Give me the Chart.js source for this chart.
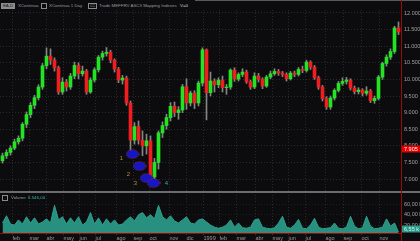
<!DOCTYPE html>
<html>
<head>
<meta charset="utf-8">
<script src="https://cdn.jsdelivr.net/npm/chart.js@4.4.1/dist/chart.umd.min.js"></script>
<style>
html,body{margin:0;padding:0;background:#0c0c0e;}
#wrap{position:relative;width:420px;height:241px;overflow:hidden;background:#0c0c0e;font-family:"Liberation Sans",Arial,sans-serif;}
#cP{position:absolute;left:0;top:10px;}
#cV{position:absolute;left:0;top:193px;}
.t{position:absolute;font-size:4.4px;line-height:6px;color:#9a9a9a;white-space:nowrap;}
.bx{position:absolute;border:1px solid #8a8a8a;box-sizing:border-box;}
</style>
</head>
<body>
<div id="wrap">
  <div style="position:absolute;left:195px;top:0;width:225px;height:1px;background:#5a5a5a"></div>
  <div class="t" style="left:1px;top:3px;width:14px;height:6px;background:#8c8c8c;color:#1a1a1a;text-align:center">EA,D</div>
  <div class="t" style="left:18px;top:3px">XContinua</div>
  <div class="bx" style="left:41px;top:3px;width:6px;height:6px"></div>
  <div class="t" style="left:49px;top:3px">XContinua 1 Day</div>
  <div class="bx t" style="left:88px;top:3px;width:9px;height:6px;font-size:3.6px;line-height:4px;text-align:center">CC</div>
  <div class="t" style="left:99px;top:3px">Trade MEFFRV ASCII Mapping Indexes</div>
  <div class="t" style="left:180px;top:3px;color:#dcdcdc">V=0</div>

  <canvas id="cP" width="420" height="181"></canvas>

  <div style="position:absolute;left:0;top:191px;width:420px;height:2px;background:#6c6c6c"></div>
  <canvas id="cV" width="420" height="48"></canvas>
  <div class="bx" style="left:2px;top:195px;width:6px;height:6px"></div>
  <div class="t" style="left:11px;top:195px">Volume</div>
  <div class="t" id="volTxt" style="left:28px;top:195px;color:#3cb4a0"></div>

  <div style="position:absolute;left:401px;top:0;width:1px;height:241px;background:#9a0c0c"></div>
</div>
<script>
// month ticks (bar index where each month starts) and their labels
var monthLabels = ['feb','mar','abr','may','jun','jul','ago','sep','oct','nov','dic','1999','feb','mar','abr','may','jun','jul','ago','sep','oct','nov'];
var monthStart = [2.5,6.75,11,15.25,19.25,23.25,28.5,32.75,36.75,41.75,46,50.25,54.25,58.5,63.25,67.5,71.5,75.75,80.75,85.25,89.75,94.25];
var priceTicks = [7,7.5,8,8.5,9,9.5,10,10.5,11,11.5,12];
var volTicks = [20,40,60];

// weekly bars
var opens = [7.55,7.70,7.80,7.93,8.12,8.23,8.65,8.94,9.22,9.45,
 9.77,10.41,10.70,10.58,10.35,9.62,9.92,9.77,10.10,10.42,
 10.17,10.25,9.62,9.98,10.29,10.67,10.78,10.82,10.58,10.31,
 9.98,10.04,9.29,8.17,8.58,8.17,8.00,8.15,7.06,7.50,
 8.39,8.61,8.85,9.19,9.00,9.08,9.78,9.29,9.59,9.29,
 9.89,10.89,9.60,9.95,9.84,9.98,9.75,9.77,10.28,10.01,
 10.15,10.22,9.93,9.77,10.10,10.00,9.80,10.07,10.17,10.24,
 10.19,10.15,10.02,10.19,10.15,10.30,10.27,10.52,10.37,10.05,
 9.77,9.42,9.17,9.44,9.67,9.88,9.94,9.98,9.74,9.63,
 9.68,9.58,9.65,9.36,9.43,10.07,10.48,10.67,10.84,11.55];
var closes = [7.70,7.80,7.93,8.12,8.23,8.65,8.94,9.22,9.45,9.77,
 10.41,10.70,10.58,10.35,9.62,9.92,9.77,10.10,10.42,10.17,
 10.25,9.62,9.98,10.29,10.67,10.78,10.82,10.58,10.31,9.98,
 10.04,9.29,8.17,8.58,8.17,8.00,8.15,7.06,7.50,8.39,
 8.61,8.85,9.19,9.00,9.08,9.78,9.29,9.59,9.29,9.89,
 10.89,9.60,9.95,9.84,9.98,9.75,9.77,10.28,10.01,10.15,
 10.22,9.93,9.77,10.10,10.00,9.80,10.07,10.17,10.24,10.19,
 10.15,10.02,10.19,10.15,10.30,10.27,10.52,10.37,10.05,9.77,
 9.42,9.17,9.44,9.67,9.88,9.94,9.98,9.74,9.63,9.68,
 9.58,9.65,9.36,9.43,10.07,10.48,10.67,10.84,11.55,11.43];
var highs = [7.78,7.88,8.00,8.20,8.30,8.70,9.02,9.30,9.52,9.84,
 10.48,10.95,10.92,10.65,10.40,10.05,10.00,10.18,10.52,10.50,
 10.40,10.30,10.05,10.35,10.72,10.85,10.96,10.88,10.62,10.36,
 10.12,10.10,9.35,8.70,8.75,8.45,8.35,8.30,7.62,8.45,
 8.72,8.95,9.30,9.32,9.18,9.85,10.02,9.65,9.66,9.95,
 10.95,10.92,10.22,10.02,10.05,10.10,9.85,10.32,10.35,10.20,
 10.32,10.28,9.98,10.20,10.18,10.05,10.12,10.25,10.32,10.30,
 10.24,10.20,10.24,10.25,10.36,10.40,10.58,10.56,10.42,10.10,
 9.82,9.48,9.50,9.72,9.94,10.05,10.06,10.02,9.80,9.75,
 9.72,9.78,9.70,9.50,10.12,10.52,10.74,10.92,11.60,11.73];
var lows = [7.48,7.62,7.72,7.88,8.05,8.15,8.55,8.85,9.12,9.38,
 9.70,10.32,10.45,10.25,9.55,9.55,9.65,9.70,10.02,10.02,
 10.10,9.55,9.58,9.92,10.22,10.58,10.70,10.50,10.22,9.90,
 9.86,9.22,7.85,8.05,8.05,7.70,7.75,6.98,6.95,7.30,
 8.25,8.50,8.75,8.88,8.80,9.00,9.10,9.20,9.12,9.20,
 9.80,8.78,9.50,9.62,9.75,9.62,9.55,9.70,9.94,9.95,
 10.08,9.88,9.70,9.72,9.92,9.72,9.76,10.02,10.12,10.12,
 10.08,9.95,9.98,10.08,10.10,10.20,10.22,10.30,10.00,9.70,
 9.35,9.10,9.10,9.38,9.62,9.82,9.86,9.68,9.56,9.56,
 9.50,9.52,9.30,9.28,9.38,10.00,10.40,10.60,10.78,11.35];
// volume in thousands
var volumes = [24,38,22,20,30,22,36,24,34,22,
 26,32,24,58,30,36,22,34,24,36,
 20,26,44,22,34,20,32,22,30,20,
 22,30,36,28,40,44,34,40,32,58,
 36,30,38,28,24,30,36,24,22,30,
 32,26,20,16,14,16,20,30,16,24,
 15,14,16,30,32,16,14,13,15,24,
 37,16,14,20,31,14,13,20,33,16,
 13,14,15,24,14,13,16,37,18,13,
 15,37,18,13,14,16,32,18,24,6.546];

// the four marked lows and their numbers
var markX = [32.5,34.25,36,37.75];
var markY = [7.75,7.39,7.03,6.88];
var noteX = [29.75,31.5,33.25,41];
var noteY = [7.62,7.15,6.86,6.86];
var noteTxt = ['1','2','3','4'];
var alertLevel = 7.905;

var GREEN = '#22e422', RED = '#f01e1e';
var tickFont = {family:'Liberation Sans', size:5.5};

function fmtVol(v){
  var n = Math.round(v*1000);
  var s = String(n);
  if (s.length > 3) s = s.slice(0, -3) + '.' + s.slice(-3);
  return s + ',00';
}
document.getElementById('volTxt').textContent = fmtVol(volumes[volumes.length-1]);

// blue ellipse used as the point style for the marks
var ell = document.createElement('canvas');
ell.width = 14; ell.height = 10;
(function(){
  var c = ell.getContext('2d');
  c.beginPath();
  c.ellipse(7,5,6.3,4.3,0,0,Math.PI*2);
  c.fillStyle = '#1616c4';
  c.fill();
  c.setLineDash([1,1]);
  c.strokeStyle = '#b03040';
  c.lineWidth = 0.8;
  c.stroke();
})();

var monthX = function(s){ s.ticks = monthStart.map(function(v){ return {value:v}; }); };
function noPad(s){ s.paddingTop = 0; s.paddingBottom = 0; s.paddingLeft = 0; s.paddingRight = 0; }

var notesPlugin = {
  id:'notes',
  afterDraw: function(ch){
    var c = ch.ctx, xs = ch.scales.x, ys = ch.scales.y;
    c.save();
    c.font = '6px "Liberation Sans"';
    c.textAlign = 'center';
    c.textBaseline = 'middle';
    for (var i = 0; i < noteTxt.length; i++){
      c.fillStyle = i < 3 ? '#c8843c' : '#3fa6ac';
      c.fillText(noteTxt[i], xs.getPixelForValue(noteX[i]), ys.getPixelForValue(noteY[i]));
    }
    var py = ys.getPixelForValue(alertLevel);
    c.fillStyle = '#e40000';
    c.fillRect(ch.chartArea.right + 1, py - 3.5, 19, 7);
    c.fillStyle = '#ffffff';
    c.font = '5.5px "Liberation Sans"';
    c.textAlign = 'left';
    c.fillText(alertLevel.toFixed(3), ch.chartArea.right + 3, py + 0.5);
    c.restore();
  }
};

new Chart(document.getElementById('cP'), {
  type:'bar',
  data:{ datasets:[
    { type:'scatter', data: markX.map(function(x,i){ return {x:x, y:markY[i]}; }),
      pointStyle: ell, pointRadius:6, order:0 },
    { data: opens.map(function(o,i){ return {x:i, y:[o, closes[i]]}; }),
      backgroundColor: opens.map(function(o,i){ return closes[i] >= o ? GREEN : RED; }),
      barThickness:3, grouped:false, borderWidth:0, order:1 },
    { data: lows.map(function(l,i){ return {x:i, y:[l, highs[i]]}; }),
      backgroundColor:'#858585', barThickness:1, grouped:false, borderWidth:0, order:2 }
  ]},
  options:{
    responsive:false, animation:false, devicePixelRatio:1,
    layout:{padding:0, autoPadding:false},
    plugins:{legend:{display:false}, tooltip:{enabled:false}},
    scales:{
      x:{ type:'linear', min:-0.625, max:99.625, offset:false,
          afterBuildTicks: monthX,
          afterFit: function(s){ s.height = 0; noPad(s); },
          ticks:{display:false},
          grid:{color:'#2a2a2a', offset:false, drawTicks:false},
          border:{display:false, dash:[1,2]} },
      y:{ position:'right', min:6.639, max:12.09,
          afterBuildTicks: function(s){ s.ticks = priceTicks.map(function(v){ return {value:v}; }); },
          afterFit: function(s){ s.width = 19; noPad(s); },
          ticks:{ color:'#a0a0a0', font:tickFont, padding:3,
                  callback:function(v){ return v.toFixed(3); } },
          grid:{color:'#2a2a2a', drawTicks:false},
          border:{display:false, dash:[1,2]} }
    }
  },
  plugins:[notesPlugin]
});

var volBoxPlugin = {
  id:'volbox',
  afterDraw: function(ch){
    var c = ch.ctx, ys = ch.scales.y, a = ch.chartArea;
    var last = volumes[volumes.length-1];
    var py = Math.min(ys.getPixelForValue(last), a.bottom - 4);
    c.save();
    c.fillStyle = '#2a9a88';
    c.fillRect(a.right + 1, py - 3.5, 19, 7);
    c.fillStyle = '#d8f4ee';
    c.font = '5.5px "Liberation Sans"';
    c.textBaseline = 'middle';
    c.fillText(last.toFixed(2).replace('.', ',') + ' k', a.right + 3, py + 0.5);
    c.restore();
  }
};

new Chart(document.getElementById('cV'), {
  type:'line',
  data:{ datasets:[{
    data: volumes.map(function(v,i){ return {x:i, y:v}; }),
    fill:'start', backgroundColor:'#27907f', borderColor:'#2fa08e',
    borderWidth:1, pointRadius:0, tension:0
  }]},
  options:{
    responsive:false, animation:false, devicePixelRatio:1,
    layout:{padding:{top:2}, autoPadding:false},
    plugins:{legend:{display:false}, tooltip:{enabled:false}},
    scales:{
      x:{ type:'linear', min:-0.625, max:99.625, offset:false,
          afterBuildTicks: monthX,
          afterFit: function(s){ s.height = 8; noPad(s); },
          ticks:{ color:'#9a9a9a', font:tickFont, padding:0, align:'start',
                  autoSkip:false, maxRotation:0, minRotation:0,
                  callback:function(v, i){ return monthLabels[i]; } },
          grid:{color:'#2a2a2a', offset:false, tickColor:'#b00000', tickLength:2},
          border:{display:true, color:'#b00000', width:1, dash:[1,2]} },
      y:{ position:'right', min:4.8, max:77.9,
          afterBuildTicks: function(s){ s.ticks = volTicks.map(function(v){ return {value:v}; }); },
          afterFit: function(s){ s.width = 19; noPad(s); },
          ticks:{ color:'#a0a0a0', font:tickFont, padding:3,
                  callback:function(v){ return v + ',00 k'; } },
          grid:{color:'#1e1e1e', drawTicks:false},
          border:{display:false, dash:[1,2]} }
    }
  },
  plugins:[volBoxPlugin]
});
</script>
</body>
</html>
